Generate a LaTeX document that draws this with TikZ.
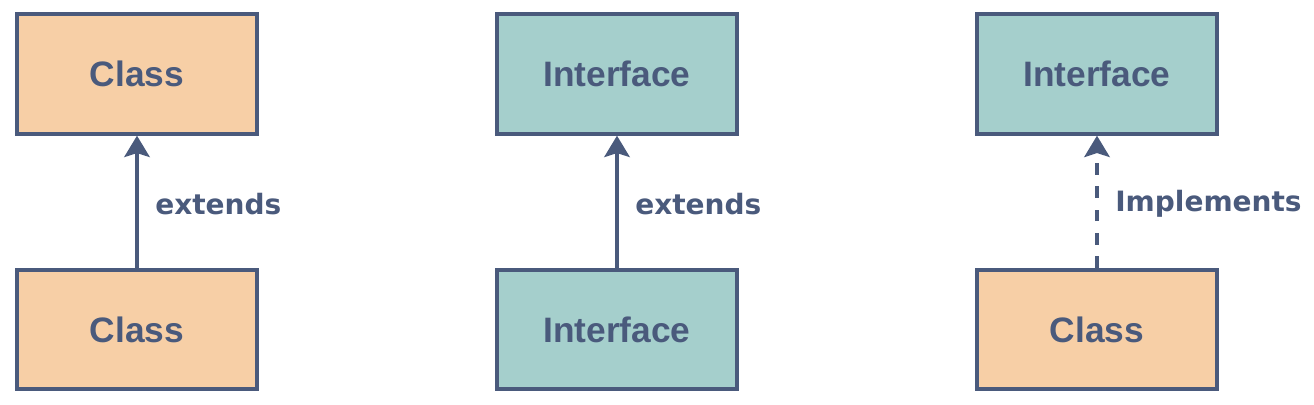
\documentclass[tikz,border=0pt]{standalone}
\usepackage{fontspec}
\setmainfont{Liberation Sans}
\newfontfamily\lblfont{DejaVu Sans}
\usetikzlibrary{arrows.meta}
\definecolor{ink}{HTML}{4A5A7C}
\definecolor{classfill}{HTML}{F7CFA6}
\definecolor{ifacefill}{HTML}{A5CFCC}
\tikzset{
  umlbox/.style={draw=ink, line width=3pt, minimum width=180pt, minimum height=89.5pt,
    inner sep=0pt, text=ink, font=\fontsize{26.5}{30}\selectfont\bfseries},
  classbox/.style={umlbox, fill=classfill},
  ifacebox/.style={umlbox, fill=ifacefill},
  rel/.style={draw=ink, line width=3pt, -{Stealth[length=16pt,width=19pt,inset=3pt]}},
  dashrel/.style={rel, dash pattern=on 8.75pt off 8.75pt},
  lbl/.style={text=ink, anchor=west, inner sep=0pt, font=\lblfont\fontsize{21}{25}\selectfont\bfseries}
}
\begin{document}
\begin{tikzpicture}[x=0.75pt,y=-0.75pt]
\useasboundingbox (0,0) rectangle (1314,404);
\node[classbox] (c1t) at (137,74) {Class};
\node[classbox] (c1b) at (137,329.5) {Class};
\node[ifacebox] (c2t) at (617,74) {Interface};
\node[ifacebox] (c2b) at (617,329.5) {Interface};
\node[ifacebox] (c3t) at (1097,74) {Interface};
\node[classbox] (c3b) at (1097,329.5) {Class};
\draw[rel] (c1b) -- (c1t);
\draw[rel] (c2b) -- (c2t);
\draw[dashrel] (c3b) -- (c3t);
\node[lbl] (l1) at (155,204) {extends};
\node[lbl] (l2) at (635,204) {extends};
\node[lbl] (l3) at (1115,204) {Implements};
\end{tikzpicture}
\end{document}
